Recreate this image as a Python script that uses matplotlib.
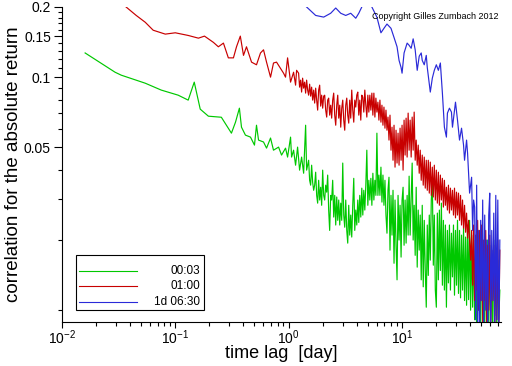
import matplotlib
matplotlib.use("Agg")
import matplotlib.pyplot as plt
from matplotlib.ticker import FixedLocator, FixedFormatter, LogLocator, NullFormatter
from matplotlib.patches import Rectangle
from matplotlib.lines import Line2D

plt.rcParams['font.family'] = ['Liberation Sans', 'DejaVu Sans']
plt.rcParams['mathtext.default'] = 'regular'

# ---------------- data (time lag in days, correlation) ----------------
series_labels = ["00:03", "01:00", "1d 06:30"]

# common fine lag grid for the dense (noisy) part of the curves
lag_grid = [1.226, 1.251, 1.277, 1.303, 1.330, 1.358, 1.386, 1.414, 1.443, 1.473,
            1.503, 1.534, 1.566, 1.598, 1.631, 1.665, 1.699, 1.734, 1.770, 1.806,
            1.843, 1.881, 1.920, 1.959, 2.000, 2.041, 2.083, 2.126, 2.170, 2.214,
            2.259, 2.305, 2.353, 2.401, 2.451, 2.502, 2.554, 2.607, 2.661, 2.716,
            2.771, 2.829, 2.887, 2.946, 3.007, 3.068, 3.131, 3.196, 3.262, 3.328,
            3.396, 3.465, 3.537, 3.610, 3.685, 3.761, 3.839, 3.918, 3.999, 4.082,
            4.165, 4.251, 4.339, 4.429, 4.520, 4.613, 4.709, 4.806, 4.906, 5.007,
            5.111, 5.216, 5.325, 5.435, 5.547, 5.661, 5.779, 5.898, 6.021, 6.145,
            6.272, 6.402, 6.535, 6.670, 6.808, 6.948, 7.092, 7.239, 7.389, 7.541,
            7.697, 7.856, 8.019, 8.185, 8.354, 8.527, 8.703, 8.883, 9.067, 9.254,
            9.446, 9.641, 9.841, 10.04, 10.25, 10.46, 10.68, 10.90, 11.13, 11.36,
            11.59, 11.83, 12.08, 12.33, 12.58, 12.84, 13.11, 13.38, 13.66, 13.94,
            14.23, 14.52, 14.82, 15.13, 15.44, 15.76, 16.09, 16.42, 16.76, 17.11,
            17.46, 17.82, 18.19, 18.57, 18.95, 19.34, 19.74, 20.15, 20.57, 21.00,
            21.43, 21.87, 22.33, 22.79, 23.26, 23.74, 24.23, 24.73, 25.24, 25.77,
            26.30, 26.84, 27.40, 27.97, 28.55, 29.14, 29.74, 30.36, 30.98, 31.62,
            32.28, 32.95, 33.63, 34.32, 35.03, 35.76, 36.50, 37.25, 38.02, 38.81,
            39.61, 40.43, 41.27, 42.12, 42.99, 43.88, 44.79, 45.72, 46.66, 47.63,
            48.61, 49.62, 50.65, 51.69, 52.76, 53.86, 54.97, 56.11, 57.27, 58.45,
            59.66, 60.90, 62.16, 63.44, 64.76, 66.10, 67.46, 68.86, 70.29, 71.74,
            73.23]

# --- 00:03 series ---
lag_0003_head = [0.0160, 0.0294, 0.0333, 0.0543, 0.0752, 0.106, 0.130, 0.147, 0.166, 0.196,
                 0.255, 0.313, 0.340, 0.368, 0.384, 0.416, 0.461, 0.500, 0.521, 0.543,
                 0.601, 0.639, 0.693, 0.736, 0.816, 0.867, 0.940, 0.980, 1.041, 1.063,
                 1.107, 1.153, 1.201, 1.251, 1.303, 1.358, 1.414, 1.443]
corr_0003_head = [0.127, 0.105, 0.102, 0.0942, 0.0880, 0.0837, 0.0797, 0.0952, 0.0729, 0.0680,
                  0.0673, 0.0575, 0.0641, 0.0736, 0.0610, 0.0564, 0.0553, 0.0511, 0.0622, 0.0537,
                  0.0527, 0.0496, 0.0548, 0.0486, 0.0501, 0.0463, 0.0496, 0.0454, 0.0553, 0.0454,
                  0.0486, 0.0419, 0.0501, 0.0399, 0.0454, 0.0387, 0.0622, 0.0399]
corr_0003_dense = [0.0440, 0.0361, 0.0344, 0.0419, 0.0354, 0.0327, 0.0344, 0.0391, 0.0311, 0.0288,
                   0.0361, 0.0297, 0.0337, 0.0282, 0.0399, 0.0311, 0.0297, 0.0344, 0.0321, 0.0380,
                   0.0269, 0.0220, 0.0311, 0.0297, 0.0361, 0.0251, 0.0311, 0.0232, 0.0306, 0.0243,
                   0.0297, 0.0232, 0.0288, 0.0243, 0.0428, 0.0256, 0.0227, 0.0297, 0.0220, 0.0194,
                   0.0282, 0.0210, 0.0256, 0.0206, 0.0282, 0.0368, 0.0220, 0.0269, 0.0232, 0.0297,
                   0.0238, 0.0311, 0.0251, 0.0334, 0.0256, 0.0327, 0.0269, 0.0344, 0.0486, 0.0282,
                   0.0361, 0.0297, 0.0368, 0.0282, 0.0387, 0.0297, 0.0361, 0.0311, 0.0575, 0.0311,
                   0.0380, 0.0311, 0.0411, 0.0291, 0.0380, 0.0282, 0.0361, 0.0256, 0.0214, 0.0327,
                   0.0372, 0.0181, 0.0311, 0.0210, 0.0327, 0.0159, 0.0297, 0.0190, 0.0135, 0.0311,
                   0.0200, 0.0282, 0.0169, 0.0297, 0.0337, 0.0190, 0.0297, 0.0194, 0.0311, 0.0210,
                   0.0376, 0.0210, 0.0297, 0.0428, 0.0200, 0.0282, 0.0172, 0.0337, 0.0153, 0.0269,
                   0.0181, 0.0256, 0.0135, 0.0282, 0.0126, 0.0243, 0.0148, 0.0103, 0.0232, 0.0141,
                   0.0256, 0.0164, 0.0297, 0.0361, 0.0156, 0.0256, 0.0122, 0.0103, 0.0261, 0.0135,
                   0.0269, 0.0148, 0.0288, 0.0128, 0.0243, 0.0122, 0.0232, 0.0103, 0.0220, 0.0131,
                   0.0232, 0.0122, 0.0214, 0.0139, 0.0232, 0.0116, 0.0220, 0.0128, 0.0243, 0.0118,
                   0.0220, 0.0113, 0.0210, 0.0122, 0.0225, 0.0110, 0.0206, 0.0105, 0.0232, 0.0111,
                   0.0243, 0.0100, 0.0210, 0.0103, 0.0200, 0.0091, 0.0200, 0.0082, 0.0190, 0.0100,
                   0.0210, 0.0082, 0.0181, 0.0110, 0.0190, 0.0082, 0.0181, 0.0095, 0.0200, 0.0082,
                   0.0190, 0.0091, 0.0181, 0.0078, 0.0200, 0.0095, 0.0172, 0.0082, 0.0164, 0.0091,
                   0.0122]

# --- 01:00 series ---
lag_0100_head = [0.0368, 0.0452, 0.0543, 0.0638, 0.0816, 0.100, 0.130, 0.160, 0.181, 0.204,
                 0.217, 0.240, 0.266, 0.294, 0.326, 0.347, 0.375, 0.400, 0.425, 0.471,
                 0.521, 0.565, 0.601, 0.639, 0.693, 0.736, 0.783, 0.850, 0.903, 0.940,
                 0.980, 1.041, 1.107, 1.153, 1.177]
corr_0100_head = [0.200, 0.184, 0.172, 0.159, 0.153, 0.155, 0.151, 0.147, 0.150, 0.144,
                  0.141, 0.135, 0.140, 0.121, 0.121, 0.135, 0.150, 0.124, 0.135, 0.116,
                  0.113, 0.127, 0.131, 0.116, 0.100, 0.115, 0.116, 0.109, 0.104, 0.100,
                  0.121, 0.0952, 0.105, 0.0924, 0.107]
corr_0100_dense = [0.104, 0.0906, 0.0971, 0.0863, 0.0990, 0.0897, 0.0952, 0.0854, 0.0971, 0.0880,
                   0.0837, 0.0933, 0.0829, 0.0906, 0.0797, 0.0880, 0.0774, 0.0897, 0.0797, 0.0722,
                   0.0880, 0.0924, 0.0751, 0.0837, 0.0736, 0.0829, 0.0837, 0.0722, 0.0674, 0.0797,
                   0.0813, 0.0687, 0.0758, 0.0667, 0.0797, 0.0854, 0.0687, 0.0622, 0.0758, 0.0837,
                   0.0667, 0.0758, 0.0610, 0.0736, 0.0797, 0.0654, 0.0592, 0.0758, 0.0813, 0.0687,
                   0.0635, 0.0797, 0.0667, 0.0880, 0.0722, 0.0641, 0.0797, 0.0744, 0.0837, 0.0863,
                   0.0687, 0.0797, 0.0654, 0.0837, 0.0821, 0.0708, 0.0880, 0.0758, 0.0674, 0.0837,
                   0.0708, 0.0837, 0.0722, 0.0854, 0.0687, 0.0854, 0.0674, 0.0813, 0.0708, 0.0781,
                   0.0654, 0.0797, 0.0641, 0.0758, 0.0622, 0.0744, 0.0604, 0.0722, 0.0592, 0.0674,
                   0.0537, 0.0687, 0.0486, 0.0610, 0.0440, 0.0622, 0.0411, 0.0592, 0.0428, 0.0575,
                   0.0419, 0.0604, 0.0440, 0.0622, 0.0399, 0.0654, 0.0463, 0.0667, 0.0454, 0.0701,
                   0.0486, 0.0654, 0.0454, 0.0674, 0.0486, 0.0708, 0.0440, 0.0537, 0.0419, 0.0511,
                   0.0387, 0.0486, 0.0361, 0.0463, 0.0344, 0.0454, 0.0334, 0.0440, 0.0327, 0.0440,
                   0.0318, 0.0432, 0.0311, 0.0411, 0.0306, 0.0419, 0.0297, 0.0399, 0.0288, 0.0391,
                   0.0282, 0.0380, 0.0297, 0.0368, 0.0277, 0.0361, 0.0282, 0.0337, 0.0269, 0.0344,
                   0.0261, 0.0334, 0.0269, 0.0327, 0.0256, 0.0334, 0.0249, 0.0321, 0.0256, 0.0318,
                   0.0243, 0.0311, 0.0232, 0.0297, 0.0225, 0.0282, 0.0216, 0.0261, 0.0204, 0.0243,
                   0.0200, 0.0164, 0.0220, 0.0128, 0.0232, 0.0110, 0.0210, 0.0122, 0.0243, 0.0100,
                   0.0220, 0.0110, 0.0232, 0.0089, 0.0200, 0.0110, 0.0220, 0.0082, 0.0190, 0.0100,
                   0.0210, 0.0082, 0.0181, 0.0110, 0.0190, 0.0078, 0.0172, 0.0091, 0.0200, 0.0082,
                   0.0181]

# --- 1d 06:30 series ---
lag_1d0630 = [1.443, 1.734, 2.041, 2.353, 2.607, 2.887, 3.196, 3.537, 3.918, 4.165,
              4.429, 4.709, 5.111, 5.435, 6.021, 6.535, 6.948, 7.389, 8.019, 8.527,
              9.067, 9.446, 9.841, 10.04, 10.46, 11.13, 11.59, 12.08, 12.58, 13.11,
              13.66, 14.23, 14.82, 15.13, 15.76, 16.42, 16.76, 17.82, 18.57, 19.34,
              20.15, 21.00, 21.87, 22.79, 23.74, 24.73, 25.24, 26.30, 27.40, 27.97,
              29.74, 30.98, 32.28, 33.63, 35.03, 35.76, 37.25, 38.02, 38.81, 39.61,
              41.27, 42.12, 42.99, 43.88, 44.79, 45.72, 46.66, 47.63, 48.61, 49.62,
              50.65, 51.69, 52.76, 53.86, 54.97, 56.11, 57.27, 58.45, 59.66, 60.90,
              62.16, 63.44, 64.76, 66.10, 67.46, 68.86, 70.29, 71.74, 73.23]
corr_1d0630 = [0.200, 0.184, 0.181, 0.188, 0.198, 0.188, 0.184, 0.188, 0.179, 0.188,
               0.200, 0.220, 0.225, 0.200, 0.181, 0.155, 0.162, 0.169, 0.162, 0.148,
               0.135, 0.118, 0.110, 0.104, 0.127, 0.140, 0.137, 0.133, 0.146, 0.131,
               0.107, 0.123, 0.127, 0.118, 0.113, 0.124, 0.110, 0.0863, 0.0990, 0.107,
               0.113, 0.107, 0.115, 0.0854, 0.0610, 0.0553, 0.0701, 0.0736, 0.0708, 0.0610,
               0.0781, 0.0654, 0.0537, 0.0604, 0.0511, 0.0440, 0.0537, 0.0472, 0.0387, 0.0318,
               0.0372, 0.0220, 0.0297, 0.0277, 0.0091, 0.0344, 0.0082, 0.0220, 0.0074, 0.0243,
               0.0110, 0.0297, 0.0078, 0.0256, 0.0100, 0.0200, 0.0074, 0.0256, 0.0318, 0.0082,
               0.0220, 0.0110, 0.0261, 0.0078, 0.0311, 0.0091, 0.0297, 0.0074, 0.0200]

x_major_ticks = [0.01, 0.1, 1, 10]
y_major_ticks = [0.05, 0.1, 0.15, 0.2]
y_major_labels = ["0.05", "0.1", "0.15", "0.2"]
y_minor_ticks = [0.01, 0.02, 0.03, 0.04, 0.06, 0.07, 0.08, 0.09,
                 0.11, 0.12, 0.13, 0.14, 0.16, 0.17, 0.18, 0.19]

colors = ["#00c800", "#c80000", "#2a2ad8"]

# assemble series
lag_0003 = lag_0003_head + lag_grid[len(lag_grid) - len(corr_0003_dense):]
corr_0003 = corr_0003_head + corr_0003_dense
lag_0100 = lag_0100_head + lag_grid[len(lag_grid) - len(corr_0100_dense):]
corr_0100 = corr_0100_head + corr_0100_dense

# ---------------- figure ----------------
fig = plt.figure(figsize=(5.12, 3.66), dpi=100)
ax = fig.add_axes([62 / 512, 1 - 322 / 366, 439 / 512, 315 / 366])

lw = 0.85
ax.plot(lag_0003, corr_0003, color=colors[0], lw=lw)
ax.plot(lag_0100, corr_0100, color=colors[1], lw=lw)
ax.plot(lag_1d0630, corr_1d0630, color=colors[2], lw=lw)

ax.set_xscale('log')
ax.set_yscale('log')
ax.set_xlim(0.01, 75)
ax.set_ylim(0.0089, 0.2)

ax.spines['top'].set_visible(False)
ax.spines['right'].set_visible(False)
for s in ('left', 'bottom'):
    ax.spines[s].set_linewidth(0.8)

ax.xaxis.set_major_locator(FixedLocator(x_major_ticks))
ax.xaxis.set_minor_locator(LogLocator(base=10, subs=[2, 3, 4, 5, 6, 7, 8, 9]))
ax.xaxis.set_minor_formatter(NullFormatter())

ax.yaxis.set_major_locator(FixedLocator(y_major_ticks))
ax.yaxis.set_major_formatter(FixedFormatter(y_major_labels))
ax.yaxis.set_minor_locator(FixedLocator(y_minor_ticks))
ax.yaxis.set_minor_formatter(NullFormatter())

ax.tick_params(axis='y', which='major', length=6, width=0.8, labelsize=10, pad=2)
ax.tick_params(axis='y', which='minor', length=3, width=0.8)
ax.tick_params(axis='x', which='major', length=4, width=0.8, labelsize=10, pad=0.5)
ax.tick_params(axis='x', which='minor', length=3, width=0.8)

ax.set_xlabel("time lag  [day]", fontsize=13, labelpad=-1)
ax.set_ylabel("correlation for the absolute return", fontsize=13.5, labelpad=1)

ax.text(0.995, 0.985, "Copyright Gilles Zumbach 2012", transform=ax.transAxes,
        ha='right', va='top', fontsize=6.5)

# legend (box with lines and right-aligned labels)
ax.add_patch(Rectangle((0.032, 0.038), 0.291, 0.175, transform=ax.transAxes,
                       facecolor='white', edgecolor='black', lw=0.8, zorder=5))
legend_rows = [0.162, 0.113, 0.063]
for lab, col, yy in zip(series_labels, colors, legend_rows):
    ax.add_line(Line2D([0.039, 0.171], [yy, yy], transform=ax.transAxes,
                       color=col, lw=0.8, zorder=6))
    ax.text(0.314, yy, lab, transform=ax.transAxes, ha='right', va='center',
            fontsize=8.5, zorder=6)

fig.savefig("out.png", dpi=100)
